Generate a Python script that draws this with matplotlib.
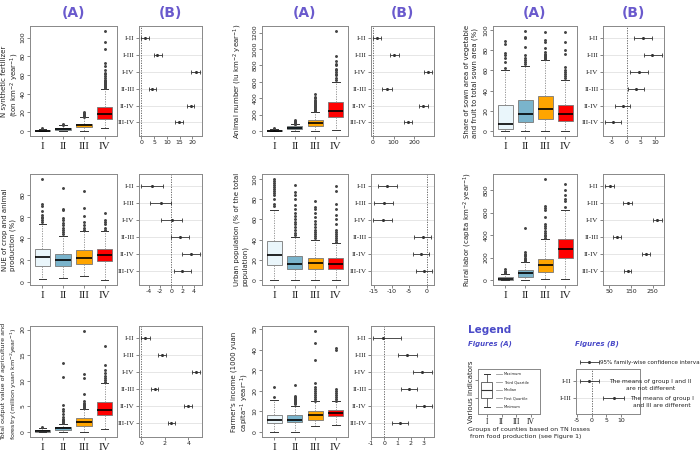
import matplotlib
matplotlib.use("Agg")
import matplotlib.pyplot as plt

plt.rcParams["axes.unicode_minus"] = False

W, H = 700, 451

groups = ["I", "II", "III", "IV"]
pairs = ["I-II", "I-III", "I-IV", "II-III", "II-IV", "III-IV"]
box_colors = ["#eaf6fb", "#7ab4cc", "#ffa500", "#ff0000"]

# === box stats: (whislo, q1, med, q3, whishi) per group ===
fert_box = [(0, 0, 0.5, 1.0, 2.5), (0, 1.5, 2.5, 3.6, 6.0), (0, 4.0, 6.0, 7.8, 14.7), (2.7, 13.0, 18.5, 26.0, 44.7)]
fert_fliers = [[3.0], [6.5, 7.0], [15, 16, 17, 18, 19, 20],
               [46, 47, 48, 49, 50, 51, 52, 53, 54, 55, 57, 59, 61, 62, 65, 70, 73, 88, 95, 107]]
fert_diff = [1.6, 6.3, 21.3, 4.3, 19.4, 14.8]
fert_lwr = [0.0, 4.8, 19.6, 2.9, 18.1, 13.4]
fert_upr = [3.2, 8.0, 22.9, 5.8, 20.6, 16.2]

anim_box = [(0, 0, 6, 12, 25), (0, 20, 40, 60, 80), (0, 60, 92, 140, 236), (12, 172, 248, 348, 592)]
anim_fliers = [[30, 35], [85, 90, 95, 100, 105, 110, 115, 120, 130],
               [240, 250, 260, 270, 280, 290, 300, 310, 320, 330, 340, 350, 360, 380, 400, 420, 448],
               [620, 650, 680, 700, 720, 740, 760, 800, 820, 860, 910, 1220]]
anim_diff = [22, 102, 263, 68, 241, 168]
anim_lwr = [3, 82, 244, 46, 220, 150]
anim_upr = [42, 124, 283, 93, 263, 189]

veg_box = [(0, 1.6, 6.5, 26.0, 60), (0, 8.8, 17, 31, 64), (0, 11.4, 21.8, 35, 70), (0, 9.8, 17, 26, 50.5)]
veg_fliers = [[62, 68, 72, 75, 77, 86, 89],
              [66, 68, 70, 72, 75, 83, 92, 93, 99],
              [71, 72, 73, 74, 75, 76, 78, 82, 88, 90, 98],
              [52, 54, 56, 58, 60, 63, 76, 80, 88, 98]]
veg_diff = [5.6, 8.9, 4.2, 3.3, -1.3, -4.7]
veg_lwr = [2.4, 5.9, 1.1, 0.4, -4.1, -7.4]
veg_upr = [8.9, 12.2, 7.6, 6.1, 1.3, -2.0]

nue_box = [(2.7, 14, 22.5, 30.5, 53.6), (3.6, 14.7, 20, 26, 42.5), (5, 16, 21.5, 29, 46.4), (1.5, 19, 24.5, 30.5, 47)]
nue_fliers = [[55, 57, 59, 60, 62, 65, 70, 72, 95],
              [44, 46, 48, 50, 52, 54, 57, 59, 66, 67, 87],
              [48, 50, 52, 55, 61, 68, 84],
              [48, 50, 53, 55, 57, 64]]
nue_diff = [-3.4, -1.9, 0.1, 1.6, 3.5, 2.0]
nue_lwr = [-5.4, -3.8, -1.8, 0.0, 2.0, 0.5]
nue_upr = [-1.5, 0.0, 2.0, 3.2, 5.1, 3.6]

urb_box = [(0, 15, 25, 39, 69.5), (0, 10.5, 15.7, 23.6, 43), (0, 11, 16.4, 22, 40), (0, 11, 16, 22, 36.7)]
urb_fliers = [[73, 75, 80, 84, 86, 88, 90, 92, 94, 96, 98, 100],
              [45, 47, 50, 52, 55, 57, 60, 63, 66, 70, 74, 80, 84, 87, 94],
              [42, 44, 46, 48, 50, 52, 55, 58, 62, 66, 70, 72, 78],
              [38, 40, 42, 44, 46, 48, 50, 55, 60, 64, 70, 75, 88, 93]]
urb_diff = [-11.2, -12.2, -12.5, -1.1, -1.7, -0.7]
urb_lwr = [-13.8, -15.0, -15.2, -3.5, -4.0, -3.0]
urb_upr = [-8.5, -9.5, -9.8, 1.1, 0.7, 1.4]

lab_box = [(0, 0, 9, 26, 53), (0, 29, 59, 88, 161), (6, 73, 132, 190, 367), (6, 200, 273, 367, 622)]
lab_fliers = [[60, 70, 80, 95],
              [170, 180, 190, 200, 210, 220, 235, 250, 460],
              [375, 390, 400, 420, 440, 460, 480, 500, 560, 620, 640, 660, 900],
              [650, 700, 720, 760, 800, 860]]
lab_diff = [51, 134, 272, 86, 220, 134]
lab_lwr = [31, 115, 253, 67, 202, 118]
lab_upr = [72, 156, 292, 104, 238, 151]

out_box = [(0, 0, 0.2, 0.3, 0.8), (0, 0.45, 0.7, 1.0, 1.55), (0, 1.1, 1.9, 2.7, 4.5), (0.6, 3.4, 4.3, 5.8, 9.5)]
out_fliers = [[1.0],
              [1.7, 1.9, 2.1, 2.3, 2.5, 3.0, 3.5, 4.0, 4.5, 5.3, 10.7, 13.5],
              [4.6, 4.8, 5.0, 5.2, 5.4, 5.7, 6.0, 7.5, 10.5, 11.3, 19.7],
              [9.8, 10.2, 10.6, 11.0, 11.5, 12.0, 13.0, 16.8]]
out_diff = [0.34, 1.76, 4.6, 1.12, 3.94, 2.55]
out_lwr = [0.0, 1.45, 4.28, 0.84, 3.64, 2.24]
out_upr = [0.7, 2.1, 4.95, 1.4, 4.28, 2.85]

inc_box = [(0, 4.4, 6, 8.4, 15.6), (0, 4.7, 6, 8, 12.7), (2.7, 6, 8, 10, 14.8), (3.5, 7.6, 9.2, 10.8, 14.8)]
inc_fliers = [[17, 22],
              [13.5, 14, 14.5, 15, 15.5, 16, 16.5, 17, 17.5, 23],
              [15, 16, 17, 18, 19, 20, 21, 22, 24, 35, 43, 49],
              [15, 16, 17, 18, 19, 20, 21, 40, 41]]
inc_diff = [-0.13, 1.7, 2.9, 1.9, 3.0, 1.2]
inc_lwr = [-0.84, 1.0, 2.15, 1.3, 2.4, 0.6]
inc_upr = [1.3, 2.45, 3.6, 2.45, 3.6, 1.8]

# legend example values
leg_box = [(1.5, 3.5, 5.3, 7.1, 8.9)]
leg_names = ["Maximum", "Third Quartile", "Median", "First Quartile", "Minimum"]
leg_pairs = ["I-II", "I-III"]
leg_diff = [-1.0, 7.5]
leg_lwr = [-4.0, 4.0]
leg_upr = [2.5, 11.0]
leg_ci = [-1.0, -4.0, 2.5]

title_col = "#6a5acd"
frame_col = "#888888"
SERIF = "Liberation Serif"

fig = plt.figure(figsize=(7, 4.51), dpi=100)


def px(x0, y0, x1, y1):
    return [x0 / W, 1 - y1 / H, (x1 - x0) / W, (y1 - y0) / H]


def style_frame(ax):
    for s in ax.spines.values():
        s.set_color(frame_col)
        s.set_linewidth(0.7)
    ax.tick_params(length=2, width=0.5, color="#555555", labelsize=4.5, pad=1.2,
                   labelcolor="#222222")


def box_panel(rect, box, fliers, ylabel, lab_x, lab_size=5.0, yticks=None):
    ax = fig.add_axes(px(*rect))
    style_frame(ax)
    stats = [dict(whislo=b[0], q1=b[1], med=b[2], q3=b[3], whishi=b[4], fliers=f)
             for b, f in zip(box, fliers)]
    bp = ax.bxp(stats, positions=range(1, len(box) + 1), widths=0.75, patch_artist=True,
                boxprops=dict(edgecolor="#777777", linewidth=0.6),
                whiskerprops=dict(color="#888888", linewidth=0.6, linestyle=(0, (1.5, 1.5))),
                capprops=dict(color="#333333", linewidth=0.7),
                medianprops=dict(color="black", linewidth=1.2),
                flierprops=dict(marker="o", markersize=1.1, markerfacecolor="#444444",
                                markeredgecolor="#444444", linewidth=0))
    for patch, c in zip(bp["boxes"], box_colors):
        patch.set_facecolor(c)
    allv = [v for f in fliers for v in f] + [b[4] for b in box] + [b[0] for b in box]
    lo, hi = min(allv), max(allv)
    pad = 0.05 * (hi - lo)
    ax.set_ylim(lo - pad, hi + pad)
    ax.set_xlim(0.4, len(box) + 0.6)
    if yticks is not None:
        ax.set_yticks(yticks)
    ax.set_xticks(range(1, len(box) + 1))
    ax.set_xticklabels(groups[:len(box)], family=SERIF, fontsize=8)
    ax.tick_params(axis="x", pad=2)
    for t in ax.get_yticklabels():
        t.set_rotation(90)
        t.set_va("center")
    cy = (rect[1] + rect[3]) / 2
    if ylabel:
        fig.text(lab_x / W, 1 - cy / H, ylabel, rotation=90, ha="center", va="center",
                 multialignment="left", fontsize=lab_size, color="#222222", linespacing=1.25)
    return ax


def tukey_panel(rect, diff, lwr, upr, names=pairs, xticks=None, xlim=None, ylim=None):
    ax = fig.add_axes(px(*rect))
    style_frame(ax)
    n = len(diff)
    ys = list(range(n, 0, -1))
    for y in ys:
        ax.axhline(y, color="#e2e2e2", linewidth=0.6, zorder=0)
    ax.axvline(0, color="#555555", linewidth=0.6, linestyle=(0, (1.5, 1.5)), zorder=1)
    xerr = [[d - l for d, l in zip(diff, lwr)], [u - d for d, u in zip(diff, upr)]]
    ax.errorbar(diff, ys, xerr=xerr, fmt="o", markersize=1.2, color="#333333",
                elinewidth=0.6, capsize=1.6, capthick=0.6, zorder=2)
    if xlim is None:
        r = max(upr) - min(lwr)
        xlim = (min(lwr) - 0.04 * r, max(upr) + 0.04 * r)
    ax.set_xlim(*xlim)
    if xticks is not None:
        ax.set_xticks(xticks)
    if ylim is None:
        ylim = (0.2, n + 0.7)
    ax.set_ylim(*ylim)
    ax.set_yticks(ys)
    ax.set_yticklabels(names, family=SERIF, fontsize=5.2)
    return ax


A_x = [(30, 117), (262, 348), (493, 577)]
B_x = [(139, 202), (371, 434), (603, 664)]
R_y = [(26, 136), (174, 285), (326, 437)]

for cx_a, cx_b in zip(A_x, B_x):
    fig.text((cx_a[0] + cx_a[1]) / 2 / W, 1 - 13 / H, "(A)", ha="center", va="center",
             fontsize=10, fontweight="bold", color=title_col)
    fig.text((cx_b[0] + cx_b[1]) / 2 / W, 1 - 13 / H, "(B)", ha="center", va="center",
             fontsize=10, fontweight="bold", color=title_col)

# row 1
box_panel((A_x[0][0], R_y[0][0], A_x[0][1], R_y[0][1]), fert_box, fert_fliers,
          "N synthetic fertilizer\n(ton km$^{-2}$ year$^{-1}$)", 11, yticks=[0, 20, 40, 60, 80, 100])
tukey_panel((B_x[0][0], R_y[0][0], B_x[0][1], R_y[0][1]), fert_diff, fert_lwr, fert_upr,
            xticks=[0, 5, 10, 15, 20])
box_panel((A_x[1][0], R_y[0][0], A_x[1][1], R_y[0][1]), anim_box, anim_fliers,
          "Animal number (lu km$^{-2}$ year$^{-1}$)", 238, yticks=[0, 200, 400, 600, 800, 1000, 1200])
tukey_panel((B_x[1][0], R_y[0][0], B_x[1][1], R_y[0][1]), anim_diff, anim_lwr, anim_upr,
            xticks=[0, 100, 200])
box_panel((A_x[2][0], R_y[0][0], A_x[2][1], R_y[0][1]), veg_box, veg_fliers,
          "Share of sown area of vegetable\nand fruit to total sown area (%)", 471,
          yticks=[0, 20, 40, 60, 80, 100])
tukey_panel((B_x[2][0], R_y[0][0], B_x[2][1], R_y[0][1]), veg_diff, veg_lwr, veg_upr,
            xticks=[-5, 0, 5, 10])

# row 2
box_panel((A_x[0][0], R_y[1][0], A_x[0][1], R_y[1][1]), nue_box, nue_fliers,
          "NUE of crop and animal\nproduction (%)", 9, yticks=[0, 20, 40, 60, 80])
tukey_panel((B_x[0][0], R_y[1][0], B_x[0][1], R_y[1][1]), nue_diff, nue_lwr, nue_upr,
            xticks=[-4, -2, 0, 2, 4])
box_panel((A_x[1][0], R_y[1][0], A_x[1][1], R_y[1][1]), urb_box, urb_fliers,
          "Urban population (% of the total\npopulation)", 241, yticks=[0, 20, 40, 60, 80, 100])
tukey_panel((B_x[1][0], R_y[1][0], B_x[1][1], R_y[1][1]), urb_diff, urb_lwr, urb_upr,
            xticks=[-15, -10, -5, 0])
box_panel((A_x[2][0], R_y[1][0], A_x[2][1], R_y[1][1]), lab_box, lab_fliers,
          "Rural labor (capita km$^{-2}$ year$^{-1}$)", 468, yticks=[0, 200, 400, 600, 800])
tukey_panel((B_x[2][0], R_y[1][0], B_x[2][1], R_y[1][1]), lab_diff, lab_lwr, lab_upr,
            xticks=[50, 150, 250])

# row 3
box_panel((A_x[0][0], R_y[2][0], A_x[0][1], R_y[2][1]), out_box, out_fliers,
          "Total output value of agriculture and\nforestry (million yuan km$^{-2}$year$^{-1}$)", 10,
          lab_size=4.6, yticks=[0, 5, 10, 15, 20])
tukey_panel((B_x[0][0], R_y[2][0], B_x[0][1], R_y[2][1]), out_diff, out_lwr, out_upr,
            xticks=[0, 2, 4])
box_panel((A_x[1][0], R_y[2][0], A_x[1][1], R_y[2][1]), inc_box, inc_fliers,
          "Farmer's income (1000 yuan\ncapita$^{-1}$ year$^{-1}$)", 241,
          yticks=[0, 10, 20, 30, 40, 50])
tukey_panel((B_x[1][0], R_y[2][0], B_x[1][1], R_y[2][1]), inc_diff, inc_lwr, inc_upr,
            xticks=[-1, 0, 1, 2, 3])

# legend area
leg_col = "#4a4ac8"
fig.text(468 / W, 1 - 330 / H, "Legend", fontsize=7.5, fontweight="bold", color=leg_col, va="center")
fig.text(468 / W, 1 - 344 / H, "Figures (A)", fontsize=5, fontweight="bold", style="italic",
         color=leg_col, va="center")
fig.text(575 / W, 1 - 344 / H, "Figures (B)", fontsize=5, fontweight="bold", style="italic",
         color=leg_col, va="center")

axl = fig.add_axes(px(478, 369, 540, 414))
style_frame(axl)
bp = axl.bxp([dict(whislo=b[0], q1=b[1], med=b[2], q3=b[3], whishi=b[4], fliers=[]) for b in leg_box],
             positions=[1], widths=0.75, patch_artist=True,
             boxprops=dict(edgecolor="#555555", linewidth=0.6, facecolor="white"),
             whiskerprops=dict(color="#555555", linewidth=0.6),
             capprops=dict(color="#333333", linewidth=0.7),
             medianprops=dict(color="#333333", linewidth=0.8))
axl.set_xlim(0.4, 4.6)
axl.set_ylim(0, 10)
axl.set_xticks(range(1, 5))
axl.set_xticklabels(groups, family=SERIF, fontsize=5.5)
axl.tick_params(axis="x", pad=0.8)
axl.set_yticks([3.5, 7.5])
axl.set_yticklabels([])
leg_y = [leg_box[0][4], leg_box[0][3], leg_box[0][2], leg_box[0][1], leg_box[0][0]]
for name, yv in zip(leg_names, leg_y):
    axl.plot([1.6, 2.0], [yv, yv], color="#999999", linewidth=0.6)
    axl.text(2.15, yv, name, fontsize=2.6, va="center", color="#222222")
fig.text(471 / W, 1 - 392 / H, "Various indicators", rotation=90, ha="center", va="center",
         fontsize=5, color="#222222")
fig.text(468 / W, 1 - 433 / H, "Groups of counties based on TN losses\n from food production (see Figure 1)",
         fontsize=4.5, va="center", ha="left", color="#222222", linespacing=1.35)

axb = tukey_panel((576, 369, 640, 414), leg_diff, leg_lwr, leg_upr, names=leg_pairs,
                  xticks=[-5, 0, 5, 10], xlim=(-5.3, 16.5), ylim=(0.06, 2.7))
axb.tick_params(axis="x", pad=0.8)
axb.errorbar([leg_ci[0]], [3.1], xerr=[[leg_ci[0] - leg_ci[1]], [leg_ci[2] - leg_ci[0]]], fmt="o",
             markersize=1.2, color="#333333", elinewidth=0.6, capsize=1.6, capthick=0.6, clip_on=False)
axb.text(2.9, 3.1, "95% family-wise confidence interval", fontsize=4.1, va="center",
         color="#222222", clip_on=False)
axb.text(20.0, 1.76, "The means of group I and II\nare not different", fontsize=4.3, va="center",
         ha="center", color="#222222", clip_on=False, linespacing=1.4)
axb.text(24.0, 0.76, "The means of group I\nand III are different", fontsize=4.3, va="center",
         ha="center", color="#222222", clip_on=False, linespacing=1.4)

fig.savefig("out.png", dpi=100)
